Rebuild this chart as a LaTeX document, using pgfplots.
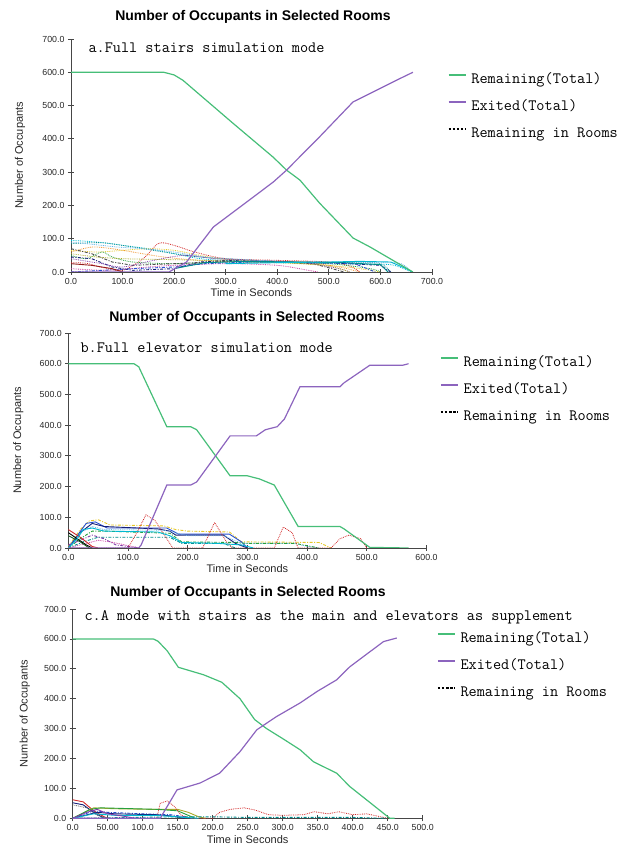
\documentclass[border=0pt]{standalone}
\usepackage{pgfplots}
\pgfplotsset{compat=1.18}
\usepackage{fontspec}
\setmainfont{Liberation Sans}
\newcommand\monofont{\ttfamily}
\definecolor{remgreen}{RGB}{70,190,120}
\definecolor{expurple}{RGB}{140,100,190}
\definecolor{axgray}{RGB}{70,70,70}
\definecolor{rcyan}{RGB}{0,185,210}
\definecolor{rteal}{RGB}{0,140,140}
\definecolor{rorange}{RGB}{240,150,50}
\definecolor{ryellow}{RGB}{230,200,40}
\definecolor{rred}{RGB}{210,40,40}
\definecolor{rblue}{RGB}{40,80,210}
\definecolor{rnavy}{RGB}{20,30,120}
\definecolor{rgreen}{RGB}{40,160,60}
\definecolor{rpurple}{RGB}{130,60,170}
\definecolor{rmagenta}{RGB}{200,60,160}
\definecolor{rlblue}{RGB}{100,180,230}
\definecolor{rolive}{RGB}{170,170,40}
\pgfplotsset{
  occ/.style={
    scale only axis, xmin=0, ymin=0, ymax=700,
    axis x line*=bottom, axis y line*=left,
    axis line style={draw=axgray, line width=0.8pt},
    tick align=center, major tick length=6pt,
    every tick/.style={axgray, line width=0.8pt},
    ytick={0,100,...,700},
    /pgf/number format/assume math mode=true,
    yticklabel style={font=\fontsize{8.8}{10}\selectfont, text=black!85,
      /pgf/number format/fixed, /pgf/number format/fixed zerofill, /pgf/number format/precision=1},
    xticklabel style={font=\fontsize{8.8}{10}\selectfont, text=black!85,
      /pgf/number format/fixed, /pgf/number format/fixed zerofill, /pgf/number format/precision=1,
      /pgf/number format/1000 sep={}},
    xlabel={Time in Seconds}, ylabel={Number of Occupants},
    label style={font=\fontsize{11}{13}\selectfont, text=black!85},
    xlabel style={at={(axis description cs:0.5,0)}, anchor=center, yshift=-21pt},
    legend style={draw=none, fill=none, anchor=north west, inner sep=0pt, outer sep=0pt,
      font=\monofont\fontsize{15.8}{18}\selectfont,
      nodes={inner sep=0pt, text height=11pt, text depth=3pt}, row sep=13pt,
      /tikz/every odd column/.append style={column sep=5pt}},
    legend cell align=left,
    legend image code/.code={\draw[line width=1.5pt, ##1] (0pt,4.5pt) -- (17pt,4.5pt);},
    clip=true,
  },
  room/.style={densely dotted, line width=0.8pt, forget plot},
  roomd/.style={dash pattern=on 3pt off 1.5pt on 1pt off 1.5pt, line width=0.9pt, forget plot},
  rooms/.style={solid, line width=0.9pt, forget plot},
  mainline/.style={line width=1.2pt, forget plot},
  legdot/.style={black, line width=1.1pt, dash pattern=on 2.5pt off 1.6pt},
}
\begin{document}
\begin{tikzpicture}
\useasboundingbox (0pt,0pt) rectangle (624pt,846pt);
% ================= Chart a =================
\node at (253pt,829pt) {\bfseries\fontsize{14}{16}\selectfont Number of Occupants in Selected Rooms};
\node[anchor=west] at (85pt,798pt) {\monofont\fontsize{15.8}{18}\selectfont a.Full stairs simulation mode};
\begin{axis}[occ, at={(71pt,574pt)}, anchor=south west, width=361pt, height=233pt,
  xmax=700, xtick={0,100,...,700},
  ylabel style={at={(axis description cs:0,0.5)}, anchor=center, yshift=51pt},
  legend style={at={(1.044,0.856)}}]
\addlegendimage{remgreen}\addlegendentry{Remaining(Total)}
\addlegendimage{expurple}\addlegendentry{Exited(Total)}
\addlegendimage{legdot}\addlegendentry{Remaining in Rooms}
\addplot[room, rcyan, smooth] coordinates {(0,95) (50,90) (100,80) (150,70) (200,55) (250,40) (300,35) (400,30) (500,25) (560,24) (620,22) (645,10) (660,0)};
\addplot[room, rteal, smooth] coordinates {(0,85) (60,88) (120,75) (180,60) (250,45) (350,35) (450,30) (550,28) (600,25) (620,0)};
\addplot[room, rred, smooth] coordinates {(0,28) (30,26) (60,14) (100,5) (140,40) (170,86) (200,80) (240,60) (300,40) (400,35) (500,30) (540,18) (560,0)};
\addplot[room, ryellow, smooth] coordinates {(0,65) (50,60) (100,65) (150,70) (200,65) (250,50) (300,38) (400,30) (500,20) (560,10) (600,0)};
\addplot[room, rorange, smooth] coordinates {(0,60) (40,75) (80,70) (120,60) (180,45) (250,35) (350,30) (450,30) (520,15) (560,0)};
\addplot[room, rgreen, smooth] coordinates {(0,50) (30,40) (60,60) (80,45) (120,30) (200,25) (300,30) (400,28) (500,25) (580,10) (600,0)};
\addplot[roomd, rnavy] coordinates {(0,45) (40,40) (80,15) (120,5) (200,10) (250,30) (300,35) (400,30) (500,28) (600,20) (620,0)};
\addplot[roomd, black!70] coordinates {(0,70) (40,55) (80,30) (120,20) (200,25) (300,32) (400,30) (470,25) (530,0)};
\addplot[room, rpurple, smooth] coordinates {(0,40) (60,25) (100,15) (160,35) (220,50) (280,40) (350,35) (450,28) (520,10) (540,0)};
\addplot[room, rmagenta, smooth] coordinates {(0,10) (60,5) (100,8) (150,15) (200,20) (300,25) (400,20) (460,5) (480,0)};
\addplot[roomd, rblue] coordinates {(0,0) (60,5) (120,10) (200,15) (260,25) (350,30) (450,28) (550,25) (590,0)};
\addplot[room, rlblue, smooth] coordinates {(0,90) (30,85) (90,75) (140,70) (200,60) (260,45) (330,38) (430,30) (520,30) (600,28) (640,25) (660,0)};
\addplot[rooms, rred!70!black] coordinates {(0,25) (40,20) (80,10) (100,0)};
\addplot[room, rolive, smooth] coordinates {(0,55) (50,45) (100,40) (160,38) (230,36) (330,32) (430,26) (500,18) (540,0)};
\addplot[rooms, rteal] coordinates {(200,10) (260,28) (340,32) (440,30) (530,28) (600,22) (615,0)};
\addplot[rooms, rcyan] coordinates {(300,25) (400,28) (500,30) (560,32) (620,30) (650,10) (662,0)};
\addplot[mainline, remgreen] coordinates {(0,600) (180,600) (200,592) (217,576) (314,447) (392,345) (418,306) (444,276) (482,207) (547,102) (580,75) (663,0)};
\addplot[mainline, expurple] coordinates {(0,0) (190,0) (224,30) (276,135) (392,270) (418,306) (482,406) (547,511) (573,531) (631,576) (663,600)};
\end{axis}
% ================= Chart b =================
\node at (247pt,528pt) {\bfseries\fontsize{14}{16}\selectfont Number of Occupants in Selected Rooms};
\node[anchor=west] at (77pt,498pt) {\monofont\fontsize{15.8}{18}\selectfont b.Full elevator simulation mode};
\begin{axis}[occ, at={(68.3pt,298pt)}, anchor=south west, width=358.2pt, height=215pt,
  xmax=600, xtick={0,100,...,600},
  ylabel style={at={(axis description cs:0,0.5)}, anchor=center, yshift=50pt},
  legend style={at={(1.038,0.895)}}]
\addlegendimage{remgreen}\addlegendentry{Remaining(Total)}
\addlegendimage{expurple}\addlegendentry{Exited(Total)}
\addlegendimage{legdot}\addlegendentry{Remaining in Rooms}
\addplot[roomd, ryellow] coordinates {(0,5) (20,60) (35,88) (50,92) (70,75) (160,72) (180,60) (200,55) (270,52) (290,20) (420,18) (440,0)};
\addplot[rooms, rblue] coordinates {(0,0) (15,40) (30,80) (45,85) (65,65) (165,65) (185,45) (270,45) (290,20) (300,0)};
\addplot[rooms, rnavy] coordinates {(0,0) (20,50) (40,80) (60,70) (150,62) (170,55) (180,42) (260,42) (280,15) (300,0)};
\addplot[room, rlblue] coordinates {(0,0) (20,50) (40,70) (60,60) (160,58) (200,40) (260,40) (290,15) (380,15) (400,5) (420,0)};
\addplot[roomd, rgreen] coordinates {(0,0) (20,30) (40,55) (60,55) (170,48) (190,20) (280,18) (300,15) (380,15) (420,0)};
\addplot[roomd, rteal] coordinates {(0,0) (25,20) (50,35) (170,35) (190,15) (260,15) (280,0)};
\addplot[roomd, rpurple] coordinates {(0,10) (20,25) (40,42) (60,30) (80,10) (100,5) (120,0)};
\addplot[room, rmagenta] coordinates {(0,0) (30,15) (50,25) (70,20) (100,8) (120,0)};
\addplot[room, rred] coordinates {(0,0) (100,0) (115,50) (130,108) (145,90) (165,30) (175,0) (225,0) (245,83) (265,20) (275,0) (345,0) (360,68) (375,50) (385,0) (440,0) (455,30) (470,42) (490,30) (500,0)};
\addplot[rooms, rred] coordinates {(0,60) (20,35) (40,5) (50,0)};
\addplot[rooms, black] coordinates {(0,50) (15,30) (30,10) (40,0)};
\addplot[rooms, rgreen!60!black] coordinates {(0,40) (20,20) (35,0)};
\addplot[rooms, rcyan] coordinates {(0,0) (15,30) (25,60) (40,65) (60,55) (150,52) (170,40) (190,18) (250,15) (290,10) (310,0)};
\addplot[mainline, remgreen] coordinates {(0,600) (110,600) (118,590) (165,395) (205,395) (215,385) (271,235) (300,235) (320,225) (345,205) (385,70) (455,70) (462,62) (505,2) (570,0)};
\addplot[mainline, expurple] coordinates {(0,0) (118,0) (122,10) (165,205) (205,205) (215,215) (271,365) (315,365) (330,385) (350,395) (362,420) (388,525) (455,525) (462,538) (505,595) (560,595) (570,600)};
\end{axis}
% ================= Chart c =================
\node at (248pt,253pt) {\bfseries\fontsize{14}{16}\selectfont Number of Occupants in Selected Rooms};
\node[anchor=west] at (81pt,229pt) {\monofont\fontsize{15.8}{18}\selectfont c.A mode with stairs as the main and elevators as supplement};
\begin{axis}[occ, at={(72.7pt,27.7pt)}, anchor=south west, width=350pt, height=209.3pt,
  xmax=500, xtick={0,50,...,500},
  xticklabels={0.0,50.00,100.0,150.0,200.0,250.0,300.0,350.0,400.0,450.0,500.0},
  ylabel style={at={(axis description cs:0,0.5)}, anchor=center, yshift=48pt},
  legend style={at={(1.041,0.8925)}}]
\addlegendimage{remgreen}\addlegendentry{Remaining(Total)}
\addlegendimage{expurple}\addlegendentry{Exited(Total)}
\addlegendimage{legdot}\addlegendentry{Remaining in Rooms}
\addplot[rooms, rred] coordinates {(0,62) (15,55) (30,25) (45,5) (50,0)};
\addplot[rooms, rnavy] coordinates {(0,52) (15,45) (30,20) (45,0)};
\addplot[room, black!60] coordinates {(0,45) (20,35) (35,10) (50,0)};
\addplot[rooms, rolive] coordinates {(0,0) (30,35) (60,32) (110,30) (150,30) (165,20) (180,5) (190,0)};
\addplot[rooms, rgreen] coordinates {(0,0) (25,30) (40,35) (120,30) (150,25) (170,5) (175,0)};
\addplot[roomd, rblue] coordinates {(0,0) (30,25) (50,20) (100,15) (140,12) (160,5) (170,0)};
\addplot[rooms, rnavy] coordinates {(0,0) (35,20) (60,15) (120,12) (140,8) (160,0)};
\addplot[room, rred] coordinates {(0,0) (120,0) (125,50) (135,58) (145,40) (155,10) (170,0) (200,0) (210,20) (225,30) (245,35) (260,28) (280,12) (300,10) (330,12) (345,22) (365,15) (380,22) (400,12) (420,15) (440,5) (450,0)};
\addplot[roomd, rteal] coordinates {(0,0) (150,5) (200,5) (250,3) (400,3) (450,0)};
\addplot[rooms, rcyan] coordinates {(0,0) (30,15) (60,10) (120,10) (160,3) (180,0)};
\addplot[rooms, rpurple] coordinates {(0,0) (20,20) (35,30) (50,15) (70,8) (90,0)};
\addplot[mainline, remgreen] coordinates {(0,600) (115,600) (122,592) (135,560) (151,505) (187,480) (213,455) (239,400) (260,330) (277,300) (301,265) (325,229) (344,189) (377,151) (396,106) (453,0) (460,0)};
\addplot[mainline, expurple] coordinates {(0,0) (125,0) (149,95) (182,118) (210,151) (239,223) (263,296) (291,340) (325,386) (349,424) (377,463) (396,507) (444,591) (463,603)};
\end{axis}
\end{tikzpicture}
\end{document}
